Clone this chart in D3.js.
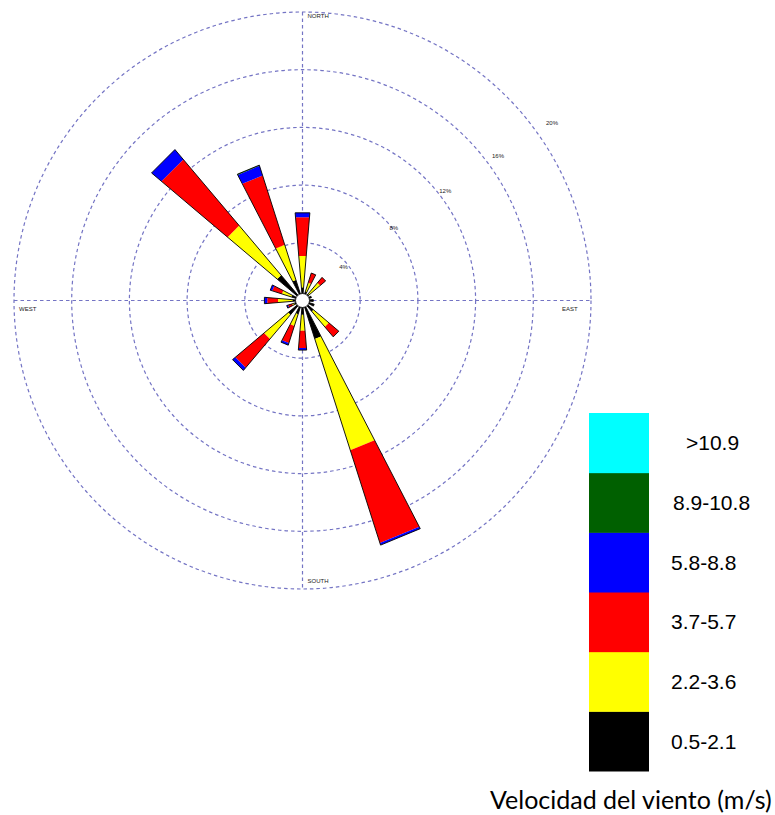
<!DOCTYPE html>
<html>
<head>
<meta charset="utf-8">
<script src="https://cdn.jsdelivr.net/npm/d3@7"></script>
<style>
  body { margin: 0; background: #fff; }
  svg { display: block; }
</style>
</head>
<body>
<div id="chart"></div>
<script>
// directions (clockwise from north) and frequency (%) of each speed class
const directions = ["N", "NNE", "NE", "ENE", "E", "ESE", "SE", "SSE", "S", "SSW", "SW", "WSW", "W", "WNW", "NW", "NNW"];
const classes = ["0.5-2.1", "2.2-3.6", "3.7-5.7", "5.8-8.8", "8.9-10.8", ">10.9"];
const classColors = ["#000000", "#ffff00", "#ff0000", "#0000ff", "#006000", "#00ffff"];

const black  = [0.9, 0.65, 0.6, 0.65, 0.75, 0.85, 1.0, 2.8, 1.0, 1.0, 1.3, 0.6, 0.7, 0.8, 2.3, 1.5];
const yellow = [2.2, 0.65, 1.0, 0, 0, 0, 1.4, 8.1, 1.1, 0.85, 2.2, 0.15, 1.0, 0.7, 4.5, 2.55];
const red    = [2.7, 0.7, 0.5, 0, 0, 0, 0.9, 6.75, 1.2, 1.25, 2.6, 0.3, 0.75, 0.7, 6.0, 5.05];
const blue   = [0.3, 0, 0, 0, 0, 0, 0, 0.15, 0.15, 0.15, 0.25, 0.1, 0.2, 0.15, 0.9, 0.7];
const green  = [0, 0, 0, 0, 0, 0, 0, 0, 0, 0, 0, 0, 0, 0, 0, 0.05];
const cyan   = [0, 0, 0, 0, 0, 0, 0, 0, 0, 0, 0, 0, 0, 0, 0, 0];

const ringTicks = [4, 8, 12, 16, 20];
const compass = [
  { label: "NORTH", angle: 0 },
  { label: "EAST", angle: 90 },
  { label: "SOUTH", angle: 180 },
  { label: "WEST", angle: 270 }
];

const width = 775, height = 815;
const cx = 302.5, cy = 300.5, R = 288.5;
const halfWidth = 4.8 * Math.PI / 180;
const gridColor = "#7474c4";

const svg = d3.select("#chart").append("svg")
  .attr("width", width)
  .attr("height", height);

const r = d3.scaleLinear().domain([0, 20]).range([0, R]);

const table = directions.map((d, i) => ({
  dir: d,
  angle: i * 22.5,
  "0.5-2.1": black[i],
  "2.2-3.6": yellow[i],
  "3.7-5.7": red[i],
  "5.8-8.8": blue[i],
  "8.9-10.8": green[i],
  ">10.9": cyan[i]
}));

const series = d3.stack().keys(classes)(table);
const color = d3.scaleOrdinal().domain(classes).range(classColors);

function pt(rad, a) {
  return [cx + rad * Math.sin(a), cy - rad * Math.cos(a)];
}

// grid rings
const grid = svg.append("g");
grid.selectAll("circle")
  .data(ringTicks)
  .join("circle")
  .attr("cx", cx)
  .attr("cy", cy)
  .attr("r", d => r(d))
  .attr("fill", "none")
  .attr("stroke", gridColor)
  .attr("stroke-width", 1.2)
  .attr("stroke-dasharray", "3.5,3");

grid.append("line")
  .attr("x1", cx - R).attr("x2", cx + R)
  .attr("y1", cy).attr("y2", cy)
  .attr("stroke", gridColor).attr("stroke-width", 1.2).attr("stroke-dasharray", "3.5,3");
grid.append("line")
  .attr("x1", cx).attr("x2", cx)
  .attr("y1", cy - R).attr("y2", cy + R)
  .attr("stroke", gridColor).attr("stroke-width", 1.2).attr("stroke-dasharray", "3.5,3");

// ring labels, sitting a little off each ring towards the upper right
const ringLabelPos = d => {
  const a = (49.5 + 0.25 * d) * Math.PI / 180;
  return pt(r(d) - 10 + 1.4 * d, a);
};
grid.selectAll("text.ring")
  .data(ringTicks)
  .join("text")
  .attr("class", "ring")
  .attr("x", d => ringLabelPos(d)[0])
  .attr("y", d => ringLabelPos(d)[1])
  .attr("text-anchor", "middle")
  .attr("dy", "0.35em")
  .style("font-family", "Liberation Sans, Arial, sans-serif")
  .style("font-size", "6px")
  .style("fill", "#222")
  .text(d => d + "%");

// compass labels
const compassPos = {
  NORTH: [cx + 5, 18],
  EAST: [cx + R - 29, cy + 10],
  SOUTH: [cx + 5, cy + R - 6],
  WEST: [cx - R + 5, cy + 10]
};
grid.selectAll("text.compass")
  .data(compass)
  .join("text")
  .attr("class", "compass")
  .attr("x", d => compassPos[d.label][0])
  .attr("y", d => compassPos[d.label][1])
  .style("font-family", "Liberation Sans, Arial, sans-serif")
  .style("font-size", "6px")
  .style("fill", "#222")
  .text(d => d.label);

// petals
const petals = svg.append("g");
series.forEach(s => {
  petals.append("g")
    .selectAll("path")
    .data(s.filter(d => d[1] - d[0] > 0))
    .join("path")
    .attr("fill", color(s.key))
    .attr("d", d => {
      const a = d.data.angle * Math.PI / 180;
      const p = [
        pt(r(d[0]), a - halfWidth),
        pt(r(d[1]), a - halfWidth),
        pt(r(d[1]), a + halfWidth),
        pt(r(d[0]), a + halfWidth)
      ];
      return "M" + p.join("L") + "Z";
    });
});

// outline of each petal
petals.append("g")
  .selectAll("path")
  .data(table)
  .join("path")
  .attr("fill", "none")
  .attr("stroke", "#000")
  .attr("stroke-width", 0.9)
  .attr("d", d => {
    const total = d3.sum(classes, k => d[k]);
    const a = d.angle * Math.PI / 180;
    const p = [[cx, cy], pt(r(total), a - halfWidth), pt(r(total), a + halfWidth)];
    return "M" + p.join("L") + "Z";
  });

// calm circle
svg.append("circle")
  .attr("cx", cx).attr("cy", cy).attr("r", 7)
  .attr("fill", "#fff")
  .attr("stroke", "#000")
  .attr("stroke-width", 0.8);

// legend
const legendY = d3.scaleBand()
  .domain(classes.slice().reverse())
  .range([413, 771]);

const legend = svg.append("g");
legend.selectAll("rect")
  .data(classes)
  .join("rect")
  .attr("x", 589)
  .attr("y", d => legendY(d))
  .attr("width", 60)
  .attr("height", legendY.bandwidth() + 0.5)
  .attr("fill", d => color(d));

legend.selectAll("text")
  .data(classes)
  .join("text")
  .attr("x", d => d === ">10.9" ? 686 : (d === "8.9-10.8" ? 673 : 671))
  .attr("y", d => legendY(d) + legendY.bandwidth() / 2)
  .attr("dy", "0.36em")
  .style("font-family", "Liberation Sans, Arial, sans-serif")
  .style("font-size", "21px")
  .style("fill", "#000")
  .text(d => d);

svg.append("text")
  .attr("x", 490)
  .attr("y", 809)
  .style("font-family", "Lato, 'Open Sans', sans-serif")
  .style("font-size", "25px")
  .style("fill", "#000")
  .text("Velocidad del viento (m/s)");
</script>
</body>
</html>
